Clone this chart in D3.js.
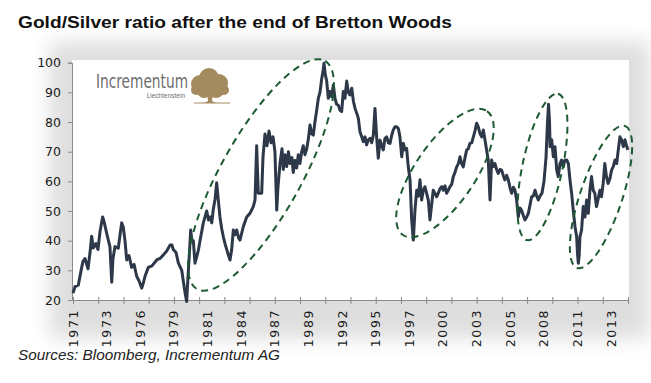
<!DOCTYPE html>
<html>
<head>
<meta charset="utf-8">
<script src="https://cdn.jsdelivr.net/npm/d3@7"></script>
<style>
  body { margin: 0; background: #fff; }
  svg { display: block; }
  .tick text { fill: #1a1a1a; }
</style>
</head>
<body>
<svg id="chart" width="651" height="383"></svg>
<script>
// gold/silver ratio (year, ratio)
var years = [1971.00,1971.16,1971.42,1971.69,1971.79,1971.95,1972.19,1972.35,1972.48,1972.61,1972.82,1972.98,
  1973.14,1973.35,1973.46,1973.67,1973.81,1973.93,1974.07,1974.17,1974.33,1974.59,1974.73,1974.86,1974.99,
  1975.12,1975.26,1975.44,1975.65,1975.84,1976.05,1976.23,1976.45,1976.59,1976.71,1976.97,1977.26,1977.64,
  1977.90,1978.16,1978.43,1978.69,1978.85,1978.95,1979.17,1979.35,1979.62,1979.76,1979.88,1980.01,1980.12,
  1980.22,1980.33,1980.43,1980.54,1980.67,1980.81,1980.95,1981.07,1981.33,1981.60,1981.74,1981.86,1982.00,
  1982.12,1982.26,1982.39,1982.52,1982.65,1982.79,1982.92,1983.05,1983.19,1983.33,1983.45,1983.58,1983.71,
  1983.84,1983.98,1984.12,1984.24,1984.50,1984.77,1985.03,1985.29,1985.43,1985.56,1985.69,1985.82,1985.96,
  1986.06,1986.22,1986.38,1986.54,1986.70,1986.86,1987.01,1987.15,1987.25,1987.41,1987.57,1987.67,1987.81,
  1987.94,1988.08,1988.20,1988.36,1988.46,1988.59,1988.73,1988.86,1988.99,1989.13,1989.26,1989.39,1989.53,
  1989.65,1989.79,1989.92,1990.05,1990.18,1990.32,1990.45,1990.58,1990.72,1990.82,1990.90,1991.00,1991.11,
  1991.24,1991.37,1991.51,1991.64,1991.77,1991.90,1992.03,1992.16,1992.30,1992.43,1992.56,1992.70,1992.83,
  1992.96,1993.10,1993.23,1993.36,1993.49,1993.62,1993.75,1993.89,1994.01,1994.15,1994.28,1994.41,1994.55,
  1994.68,1994.81,1994.94,1995.08,1995.20,1995.34,1995.47,1995.60,1995.73,1995.87,1996.00,1996.13,1996.27,
  1996.39,1996.53,1996.66,1996.79,1996.92,1997.06,1997.19,1997.32,1997.45,1997.58,1997.72,1997.85,1997.98,
  1998.11,1998.25,1998.38,1998.51,1998.64,1998.77,1998.90,1999.03,1999.17,1999.30,1999.43,1999.56,1999.69,
  1999.83,1999.96,2000.09,2000.23,2000.36,2000.49,2000.62,2000.75,2000.89,2001.02,2001.15,2001.28,2001.42,
  2001.55,2001.68,2001.81,2001.94,2002.08,2002.21,2002.34,2002.47,2002.61,2002.74,2002.87,2003.00,2003.13,
  2003.27,2003.40,2003.53,2003.66,2003.79,2003.92,2004.06,2004.19,2004.32,2004.45,2004.58,2004.71,2004.85,
  2004.98,2005.11,2005.24,2005.38,2005.51,2005.64,2005.77,2005.91,2006.04,2006.17,2006.30,2006.43,2006.56,
  2006.70,2006.83,2006.97,2007.10,2007.23,2007.36,2007.49,2007.63,2007.76,2007.89,2008.02,2008.18,2008.34,
  2008.50,2008.62,2008.70,2008.78,2008.82,2008.95,2009.08,2009.21,2009.35,2009.47,2009.61,2009.74,2009.87,
  2010.00,2010.14,2010.27,2010.40,2010.53,2010.66,2010.80,2010.93,2010.99,2011.06,2011.13,2011.19,2011.32,
  2011.45,2011.59,2011.72,2011.85,2011.98,2012.11,2012.24,2012.37,2012.50,2012.63,2012.77,2012.90,2013.03,
  2013.16,2013.29,2013.42,2013.57,2013.70,2013.83,2013.97,2014.10,2014.23,2014.36,2014.49,2014.63,2014.76,
  2014.90,2015.00];
var ratio = [22.3,24.5,25,31,33,34,30.5,36,41.5,37.5,39,37,
  43,48,46.5,42.5,40,38,26,34,38,37.5,42,46,44.5,
  40,33.5,35,31,32,28,26.5,24,26,28,31,31.5,33.5,
  34,35.2,36.5,38.5,38.5,37,36,32.5,30,26,22.5,19.5,28,
  35,43.6,40,40,32.4,34.6,37,40,46,50,47,48,46,
  50.5,54,59.5,53.7,48,44,41.3,39,37,35,33.5,37,43.6,
  42,43.6,41,40.2,44.7,48,49.2,51.5,53.7,72,56,56,56,
  68,76,72,77,73,75,70,50.3,58,66,71,64,69,
  65,70,66,68,63,67,64.5,69,66,70,72,69,71,
  74,79,76,75.6,80,84,88,90,94.7,97,99.8,96,93.9,
  88,90.3,88.5,92.5,88,86,85.7,84,83.5,90.3,88,93.8,90,
  89.1,91.4,87,84.6,83,81.3,76.7,75,73.4,75,72.3,74,74.5,
  73,75.6,84.6,74.5,67.8,73.9,72,70.6,74.5,75,73,72.8,75.6,
  77.3,78.4,78.4,77.9,75,68.3,72.8,70.6,71.1,64.9,60.5,47,40.2,
  50.3,57,55,60.5,53.7,57,58.2,56,53.7,47,52,57,56,
  54.8,56,57.5,58.2,57,58.5,56,57,58.2,59,61.6,63,64.9,
  66,68.3,66,64.9,68,70.6,71,72.8,73,75,77,79.6,78.4,
  76,75,77.3,74,70.6,67.2,53.7,67.2,65,66,64,62.7,64,
  63.8,62,60.5,62,60.5,58,56,58,57,53.7,48,51,50.3,
  48.5,47,48,49.2,52,54.8,55,57,55,53.7,55,56,60,
  68,80,86,80,71.7,74,68.3,71.7,63.8,61.6,66,67.2,64.9,
  67.2,67.2,66,60.5,56,50.3,44.7,41.3,36,32.4,35,41.3,43.6,
  51.5,48,53.7,49.2,57,61.6,57,56,51.5,54,57,54.8,59.3,
  66,61.6,59.3,61,63.8,65,67.2,66,70.6,75,74,71.7,74,
  71.7,70.6];

var yTicks = [20, 30, 40, 50, 60, 70, 80, 90, 100];
var xTickYears = [1971,1973,1975,1977,1979,1981,1983,1985,1987,1989,1991,1993,1995,1997,1999,2001,2003,2005,2007,2009,2011,2013,2015];
var xLabelYears = [1971.00,1973.67,1976.33,1979.00,1981.67,1984.33,1987.00,1989.67,1992.33,1995.00,1997.67,2000.33,2003.00,2005.67,2008.33,2011.00,2013.67];
var xLabels = ["1971","1973","1976","1979","1981","1984","1987","1989","1992","1995","1997","2000","2003","2005","2008","2011","2013"];

// dashed ellipses: lower tip and upper tip (year, ratio)
var ellipseFrom = [[1980.83, 23.7], [1997.16, 41.9], [2006.99, 40.2], [2010.96, 30.8]];
var ellipseTo   = [[1990.98, 100.6], [2003.82, 83.7], [2009.45, 89.5], [2014.76, 78.7]];
var ellipseHalfWidth = [40, 30, 20, 21];

var svg = d3.select('#chart');
var plotL = 72, plotR = 628, plotT = 62.7, plotB = 300;

var x = d3.scaleLinear().domain([1971, 2015]).range([plotL + 1, plotR]);
var y = d3.scaleLinear().domain([20, 100]).range([plotB, plotT]);

// soft grey shadow round the plot area
var defs = svg.append('defs');
defs.append('filter').attr('id', 'blur').attr('x', '-20%').attr('y', '-20%').attr('width', '140%').attr('height', '140%')
  .append('feGaussianBlur').attr('stdDeviation', 10);

svg.append('rect')
  .attr('x', 50).attr('y', 42).attr('width', 600).attr('height', 296)
  .attr('fill', '#dedede')
  .attr('filter', 'url(#blur)');

svg.append('rect')
  .attr('x', plotL).attr('y', 60).attr('width', plotR - plotL + 1).attr('height', plotB - 60)
  .attr('fill', '#fff');

// title + source
svg.append('text')
  .attr('x', 18).attr('y', 28)
  .attr('font-family', 'Liberation Sans, Arial, sans-serif')
  .attr('font-weight', 'bold').attr('font-size', 17)
  .attr('textLength', 434).attr('lengthAdjust', 'spacingAndGlyphs')
  .attr('fill', '#111')
  .text('Gold/Silver ratio after the end of Bretton Woods');

svg.append('text')
  .attr('x', 18).attr('y', 360)
  .attr('font-family', 'Liberation Sans, Arial, sans-serif')
  .attr('font-style', 'italic').attr('font-size', 15)
  .attr('textLength', 262).attr('lengthAdjust', 'spacingAndGlyphs')
  .attr('fill', '#222')
  .text('Sources: Bloomberg, Incrementum AG');

// y axis
var yAxis = svg.append('g')
  .attr('transform', 'translate(' + plotL + ',0)')
  .call(d3.axisLeft(y).tickValues(yTicks).tickSize(4).tickPadding(7));
yAxis.select('.domain').attr('stroke', '#8a8a8a');
yAxis.selectAll('.tick line').attr('stroke', '#8a8a8a');
yAxis.selectAll('.tick text')
  .attr('font-family', 'DejaVu Sans, sans-serif').attr('font-size', 12.5);

// x axis: cross ticks every two years, labels every 139 weeks
var xAxis = svg.append('g')
  .attr('transform', 'translate(0,' + plotB + ')')
  .call(d3.axisBottom(x).tickValues(xTickYears).tickSizeOuter(0).tickFormat(''));
xAxis.select('.domain').attr('stroke', '#8a8a8a');
xAxis.selectAll('.tick line').attr('stroke', '#8a8a8a').attr('y1', -3).attr('y2', 4);

svg.append('g').selectAll('text')
  .data(xLabelYears)
  .join('text')
  .attr('transform', function (d) { return 'translate(' + (x(d) + 4.5) + ',' + (plotB + 9) + ') rotate(-90)'; })
  .attr('text-anchor', 'end')
  .attr('font-family', 'DejaVu Sans, sans-serif').attr('font-size', 12.5)
  .attr('letter-spacing', 1.6)
  .attr('fill', '#1a1a1a')
  .text(function (d, i) { return xLabels[i]; });

// logo
var logo = svg.append('g');
logo.append('text')
  .attr('x', 96).attr('y', 88)
  .attr('font-family', 'DejaVu Sans Condensed, Liberation Sans Narrow, sans-serif')
  .attr('font-size', 20)
  .attr('textLength', 92).attr('lengthAdjust', 'spacingAndGlyphs')
  .attr('fill', '#6e6e6e')
  .text('Incrementum');
logo.append('text')
  .attr('x', 185).attr('y', 98)
  .attr('text-anchor', 'end')
  .attr('font-family', 'Liberation Sans, sans-serif')
  .attr('font-size', 6.5)
  .attr('fill', '#6e6e6e')
  .text('Liechtenstein');
var tree = logo.append('g').attr('fill', '#a48b5f');
[[200, 84, 9], [209, 78, 10], [219, 83, 9], [204, 91, 7], [216, 90, 8], [196, 90, 5], [224, 90, 5]].forEach(function (c) {
  tree.append('circle').attr('cx', c[0]).attr('cy', c[1]).attr('r', c[2]);
});
tree.append('path').attr('d', 'M207,92 L213,92 L212,101 L216,103 L204,103 L208,101 Z');
logo.append('line').attr('x1', 194).attr('x2', 230).attr('y1', 103).attr('y2', 103)
  .attr('stroke', '#a48b5f').attr('stroke-width', 1);

// ratio line
var line = d3.line()
  .x(function (d) { return x(d[0]); })
  .y(function (d) { return y(d[1]); });

svg.append('path')
  .datum(d3.zip(years, ratio))
  .attr('d', line)
  .attr('fill', 'none')
  .attr('stroke', '#2d3848')
  .attr('stroke-width', 3)
  .attr('stroke-linejoin', 'round');

// dashed ellipses
ellipseFrom.forEach(function (p, i) {
  var x0 = x(p[0]), y0 = y(p[1]);
  var x1 = x(ellipseTo[i][0]), y1 = y(ellipseTo[i][1]);
  var cx = (x0 + x1) / 2, cy = (y0 + y1) / 2;
  var rx = Math.sqrt((x1 - x0) * (x1 - x0) + (y1 - y0) * (y1 - y0)) / 2;
  var ang = Math.atan2(y1 - y0, x1 - x0) * 180 / Math.PI;
  svg.append('ellipse')
    .attr('cx', cx).attr('cy', cy)
    .attr('rx', rx).attr('ry', ellipseHalfWidth[i])
    .attr('transform', 'rotate(' + ang + ',' + cx + ',' + cy + ')')
    .attr('fill', 'none')
    .attr('stroke', '#1d5b33')
    .attr('stroke-width', 2)
    .attr('stroke-dasharray', '7,5');
});
</script>
</body>
</html>
